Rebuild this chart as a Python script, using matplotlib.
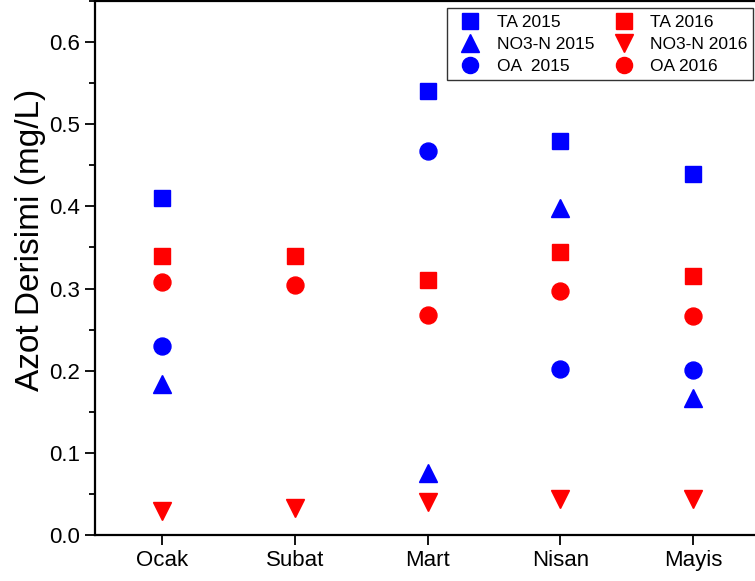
import numpy as np
import matplotlib
matplotlib.use("Agg")
import matplotlib.pyplot as plt
from matplotlib.ticker import MultipleLocator

plt.rcParams['font.family'] = ['Liberation Sans', 'DejaVu Sans']

months = ["Ocak", "Subat", "Mart", "Nisan", "Mayis"]
nan = np.nan

ta_2015 = [0.41, nan, 0.54, 0.48, 0.439]
ta_2016 = [0.34, 0.34, 0.311, 0.344, 0.315]
no3_2015 = [0.184, nan, 0.075, 0.398, 0.167]
no3_2016 = [0.029, 0.033, 0.040, 0.044, 0.044]
oa_2015 = [0.230, nan, 0.4675, 0.202, 0.201]
oa_2016 = [0.308, 0.304, 0.268, 0.297, 0.267]

x = np.arange(len(months))

fig = plt.figure(figsize=(7.55, 5.81), dpi=100)
ax = fig.add_axes([95 / 755, 1 - 535 / 581, 660 / 755, 534 / 581])

blue = "#0000FF"
red = "#FF0000"

h1, = ax.plot(x, ta_2015, "s", color=blue, ms=11.5, ls="none", label="TA 2015")
h2, = ax.plot(x, no3_2015, "^", color=blue, ms=13.5, ls="none", label="NO3-N 2015")
h3, = ax.plot(x, oa_2015, "o", color=blue, ms=12.2, ls="none", label="OA  2015")
h4, = ax.plot(x, ta_2016, "s", color=red, ms=11.5, ls="none", label="TA 2016")
h5, = ax.plot(x, no3_2016, "v", color=red, ms=13.5, ls="none", label="NO3-N 2016")
h6, = ax.plot(x, oa_2016, "o", color=red, ms=12.2, ls="none", label="OA 2016")

ax.set_xlim(-0.505, 4.467)
ax.set_ylim(0, 0.65)
ax.set_xticks(x)
ax.set_xticklabels(months)
ax.yaxis.set_major_locator(MultipleLocator(0.1))
ax.yaxis.set_minor_locator(MultipleLocator(0.05))
ax.yaxis.set_major_formatter(matplotlib.ticker.FormatStrFormatter("%.1f"))

for s in ax.spines.values():
    s.set_linewidth(1.6)
ax.spines["right"].set_visible(False)

ax.tick_params(axis="both", which="major", direction="out", length=7, width=1.3,
               labelsize=16)
ax.tick_params(axis="y", which="minor", direction="out", length=4, width=1.3)
ax.tick_params(axis="x", which="minor", bottom=False)
ax.set_ylabel("Azot Derisimi (mg/L)", fontsize=24)
ax.yaxis.set_label_coords(-0.074, 0.552)

leg = ax.legend(handles=[h1, h2, h3, h4, h5, h6], ncol=2, loc="upper right",
                bbox_to_anchor=(0.997, 0.986), borderaxespad=0, fontsize=12.5,
                frameon=True, fancybox=False, edgecolor="black",
                handletextpad=0.5, columnspacing=0.7, labelspacing=0.4,
                borderpad=0.35, markerscale=0.95)
leg.get_frame().set_linewidth(1.0)

fig.savefig("out.png", dpi=100)
